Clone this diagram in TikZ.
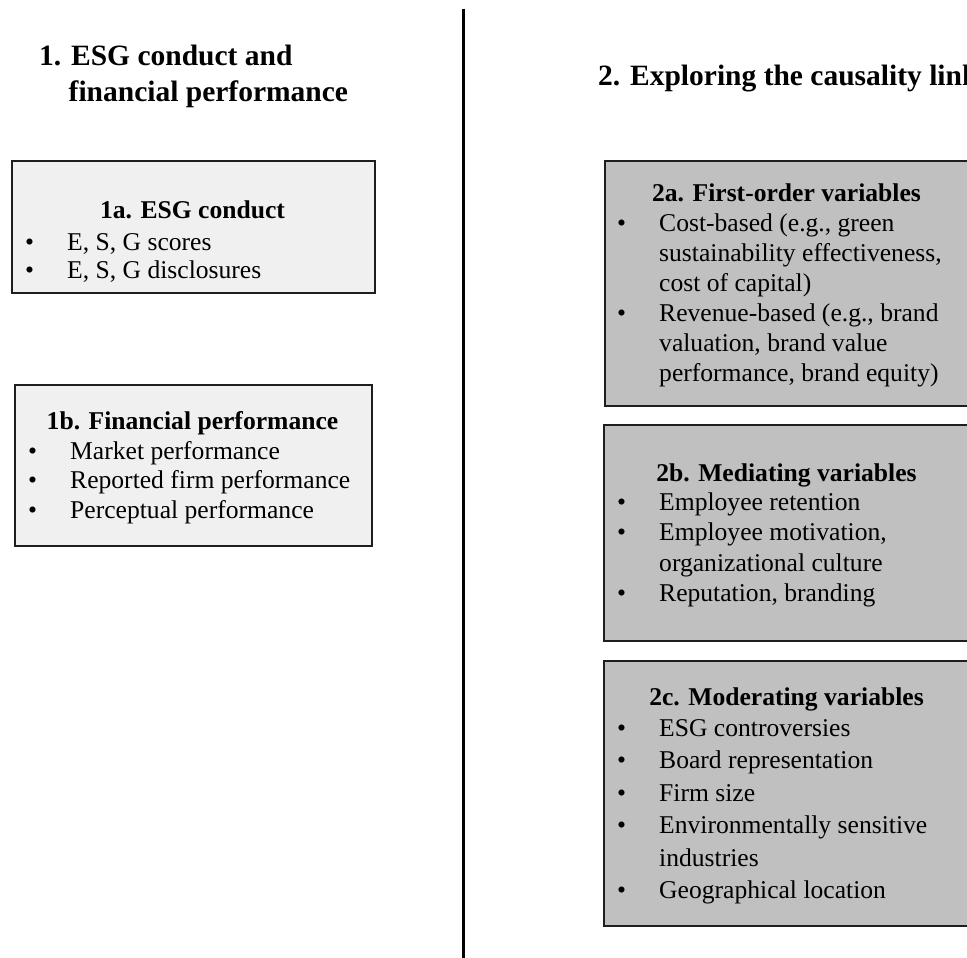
\documentclass[tikz,border=0pt]{standalone}
\usepackage{fontspec}
\setmainfont{Liberation Serif}
\definecolor{lightbox}{HTML}{F0F0F0}
\definecolor{darkbox}{HTML}{C0C0C0}
\definecolor{edge}{HTML}{1E1E1E}
\newcommand{\bul}{\llap{•\hspace{33pt}}}
\begin{document}
\begin{tikzpicture}[x=1pt,y=-1pt,
  panel/.style={draw=edge, line width=1.8pt, rectangle, inner sep=0pt, anchor=north west},
  lightpanel/.style={panel, fill=lightbox},
  darkpanel/.style={panel, fill=darkbox},
  heading/.style={font=\fontsize{29.5}{36}\selectfont\bfseries, anchor=base west, align=left, inner sep=0pt},
  boxtitle/.style={font=\fontsize{25.6}{30}\selectfont\bfseries, anchor=base, inner sep=0pt},
  bullets/.style={anchor=base west, align=left, inner sep=0pt}
]
\useasboundingbox (0,0) rectangle (967,958);
\clip (0,0) rectangle (967,958);
\fill[white] (0,0) rectangle (967,958);

% divider
\coordinate (divtop) at (463,9);
\coordinate (divbot) at (463,960);
\draw[line width=3pt, black] (divtop) -- (divbot);

% headings (base anchor = baseline of the last line)
\node[heading] (h1) at (39,102) {1. ESG conduct and\\\hspace*{29.5pt}financial performance};
\node[heading] (h2) at (598,85) {2. Exploring the causality link};

% left boxes
\node[lightpanel, minimum width=363pt, minimum height=132pt] (b1a) at (11,160) {};
\node[boxtitle] (t1a) at (192.5,218) {1a. ESG conduct};
\node[bullets, font=\fontsize{25.6}{28}\selectfont] (l1a) at (67,278)
  {\bul E, S, G scores\\\bul E, S, G disclosures};

\node[lightpanel, minimum width=357pt, minimum height=161pt] (b1b) at (14,384) {};
\node[boxtitle] (t1b) at (192.5,429) {1b. Financial performance};
\node[bullets, font=\fontsize{25.6}{29.7}\selectfont] (l1b) at (70,518.4)
  {\bul Market performance\\\bul Reported firm performance\\\bul Perceptual performance};

% right boxes
\node[darkpanel, minimum width=365pt, minimum height=245pt] (b2a) at (604,160) {};
\node[boxtitle] (t2a) at (786.5,201.5) {2a. First-order variables};
\node[bullets, font=\fontsize{25.6}{30}\selectfont] (l2a) at (659,381.5)
  {\bul Cost-based (e.g., green\\sustainability effectiveness,\\cost of capital)\\\bul Revenue-based (e.g., brand\\valuation, brand value\\performance, brand equity)};

\node[darkpanel, minimum width=366pt, minimum height=216pt] (b2b) at (603,424) {};
\node[boxtitle] (t2b) at (786.5,481) {2b. Mediating variables};
\node[bullets, font=\fontsize{25.6}{30.5}\selectfont] (l2b) at (659,601.5)
  {\bul Employee retention\\\bul Employee motivation,\\organizational culture\\\bul Reputation, branding};

\node[darkpanel, minimum width=366pt, minimum height=265pt] (b2c) at (603,660) {};
\node[boxtitle] (t2c) at (786.5,705) {2c. Moderating variables};
\node[bullets, font=\fontsize{25.6}{32.5}\selectfont] (l2c) at (659,898.5)
  {\bul ESG controversies\\\bul Board representation\\\bul Firm size\\\bul Environmentally sensitive\\industries\\\bul Geographical location};
\end{tikzpicture}
\end{document}
